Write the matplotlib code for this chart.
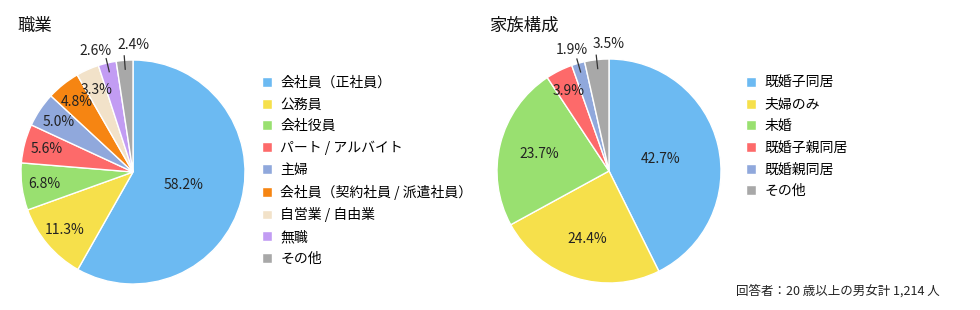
import numpy as np
import matplotlib
matplotlib.use("Agg")
import matplotlib.pyplot as plt

plt.rcParams['font.family'] = ['Noto Sans CJK JP', 'DejaVu Sans']

# 職業
job_labels = ["会社員（正社員）", "公務員", "会社役員", "パート / アルバイト", "主婦",
              "会社員（契約社員 / 派遣社員）", "自営業 / 自由業", "無職", "その他"]
job_values = [58.2, 11.3, 6.8, 5.6, 5.0, 4.8, 3.3, 2.6, 2.4]

# 家族構成
fam_labels = ["既婚子同居", "夫婦のみ", "未婚", "既婚子親同居", "既婚親同居", "その他"]
fam_values = [42.7, 24.4, 23.7, 3.9, 1.9, 3.5]

palette = {
    "blue": "#6CBAF2", "yellow": "#F6E04B", "green": "#99E070", "red": "#FD6A6A",
    "periwinkle": "#90A8DC", "orange": "#F68512", "beige": "#F2E2C9",
    "purple": "#C29CF3", "gray": "#A8A8A8",
}
job_colors = [palette[k] for k in ["blue", "yellow", "green", "red", "periwinkle",
                                   "orange", "beige", "purple", "gray"]]
fam_colors = [palette[k] for k in ["blue", "yellow", "green", "red", "periwinkle", "gray"]]

W, H = 980, 310
fig = plt.figure(figsize=(W / 100, H / 100), dpi=100)
LIM = 1.3
R_PX = 112


def draw_pie(cx, cy, values, colors, labels, outside, leg_x):
    size = 2 * LIM * R_PX
    ax = fig.add_axes([(cx - size / 2) / W, (H - cy - size / 2) / H, size / W, size / H])
    wedges, _ = ax.pie(values, colors=colors, startangle=90, counterclock=False,
                       wedgeprops=dict(edgecolor="white", linewidth=1.0))
    ax.set_xlim(-LIM, LIM)
    ax.set_ylim(-LIM, LIM)
    ax.set_aspect("equal")
    ax.axis("off")

    total = sum(values)
    start = 90.0
    for i, v in enumerate(values):
        sweep = v / total * 360
        mid = np.deg2rad(start - sweep / 2)
        start -= sweep
        txt = f"{v:.1f}%"
        if i in outside:
            # leader line + label above the pie
            x0, y0 = 0.92 * np.cos(mid), 0.92 * np.sin(mid)
            x1, y1 = 1.04 * np.cos(mid), 1.04 * np.sin(mid)
            ax.plot([x0, x1], [y0, y1], color="#333333", lw=0.9, clip_on=False)
            ang = mid + np.deg2rad(outside[i])
            ax.text(1.13 * np.cos(ang), 1.13 * np.sin(ang), txt, ha="center", va="center",
                    fontsize=10, color="#222222")
        else:
            share = v / total
            d = 0.47 if share > 0.4 else (0.64 if share > 0.2 else 0.8)
            ax.text(d * np.cos(mid), d * np.sin(mid), txt, ha="center", va="center",
                    fontsize=10, color="#222222")

    ax.legend(wedges, labels, loc="upper left", bbox_to_anchor=(leg_x / W, 1 - 76 / H),
              bbox_transform=fig.transFigure, frameon=False, fontsize=10,
              handlelength=0.72, handleheight=0.72, handletextpad=0.6,
              labelspacing=0.55, borderaxespad=0, borderpad=0)
    return ax


draw_pie(133, 172, job_values, job_colors, job_labels, {7: 4.0, 8: -4.3}, 262)
draw_pie(609, 171, fam_values, fam_colors, fam_labels, {4: 1.0, 5: -6.3}, 746)

fig.text(17 / W, 1 - 26 / H, "職業", fontsize=12.5, va="center", ha="left", color="#111111")
fig.text(489 / W, 1 - 26 / H, "家族構成", fontsize=12.5, va="center", ha="left", color="#111111")
fig.text(940 / W, 1 - 291 / H, "回答者：20 歳以上の男女計 1,214 人", fontsize=9,
         va="center", ha="right", color="#222222")

fig.savefig("out.png", dpi=100)
